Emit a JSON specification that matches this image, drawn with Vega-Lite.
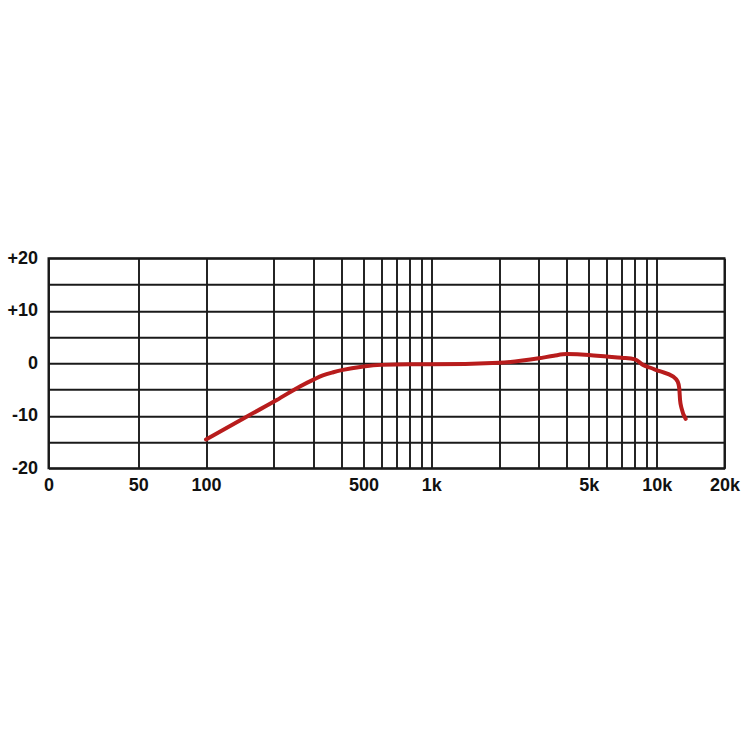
{
  "$schema": "https://vega.github.io/schema/vega-lite/v6.json",
  "width": 676,
  "height": 210,
  "autosize": {"type": "none"},
  "padding": {"left": 48.5, "top": 258.3, "right": 25.5, "bottom": 281.7},
  "background": "white",
  "config": {
    "view": {"stroke": "#1a1a1a", "strokeWidth": 2},
    "axis": {
      "grid": true,
      "gridColor": "#1a1a1a",
      "gridOpacity": 1,
      "gridWidth": 1.9,
      "domain": false,
      "ticks": false,
      "labelFont": "Liberation Sans",
      "labelFontWeight": "bold",
      "labelFontSize": 18,
      "labelColor": "#111111",
      "labelOverlap": false,
      "labelFlush": false,
      "title": null
    }
  },
  "data": {
    "values": [
      {"freq": 100, "db": -14.5},
      {"freq": 132, "db": -11.6},
      {"freq": 157, "db": -9.8},
      {"freq": 206, "db": -7.0},
      {"freq": 261, "db": -4.4},
      {"freq": 300, "db": -3.1},
      {"freq": 330, "db": -2.3},
      {"freq": 367, "db": -1.7},
      {"freq": 400, "db": -1.3},
      {"freq": 500, "db": -0.6},
      {"freq": 600, "db": -0.3},
      {"freq": 800, "db": -0.2},
      {"freq": 1000, "db": -0.2},
      {"freq": 2000, "db": 0.1},
      {"freq": 3000, "db": 0.95},
      {"freq": 3500, "db": 1.45},
      {"freq": 4000, "db": 1.75},
      {"freq": 5000, "db": 1.6},
      {"freq": 6000, "db": 1.3},
      {"freq": 7000, "db": 1.05},
      {"freq": 8000, "db": 0.75},
      {"freq": 8700, "db": -0.3},
      {"freq": 9300, "db": -0.8},
      {"freq": 10300, "db": -1.5},
      {"freq": 11800, "db": -2.5},
      {"freq": 12400, "db": -3.5},
      {"freq": 12600, "db": -4.8},
      {"freq": 12700, "db": -7.0},
      {"freq": 12900, "db": -8.6},
      {"freq": 13450, "db": -10.6}
    ]
  },
  "mark": {
    "type": "line",
    "color": "#b81c1c",
    "strokeWidth": 4,
    "interpolate": "monotone",
    "strokeCap": "round",
    "strokeJoin": "round"
  },
  "encoding": {
    "x": {
      "field": "freq",
      "type": "quantitative",
      "scale": {"type": "log", "domain": [20, 20000], "nice": false},
      "axis": {
        "values": [20, 50, 100, 200, 300, 400, 500, 600, 700, 800, 900, 1000, 2000, 3000, 4000, 5000, 6000, 7000, 8000, 9000, 10000, 20000],
        "labelExpr": "indexof([20, 50, 100, 500, 1000, 5000, 10000, 20000], datum.value) < 0 ? '' : (datum.value == 20 ? '0' : (datum.value >= 1000 ? (datum.value / 1000) + 'k' : '' + datum.value))",
        "labelPadding": 8,
        "labelBaseline": "top"
      }
    },
    "y": {
      "field": "db",
      "type": "quantitative",
      "scale": {"domain": [-20, 20], "nice": false, "zero": false},
      "axis": {
        "values": [-20, -15, -10, -5, 0, 5, 10, 15, 20],
        "labelExpr": "datum.value % 10 != 0 ? '' : (datum.value > 0 ? '+' + datum.value : '' + datum.value)",
        "labelPadding": 11,
        "labelBaseline": "middle"
      }
    }
  }
}
